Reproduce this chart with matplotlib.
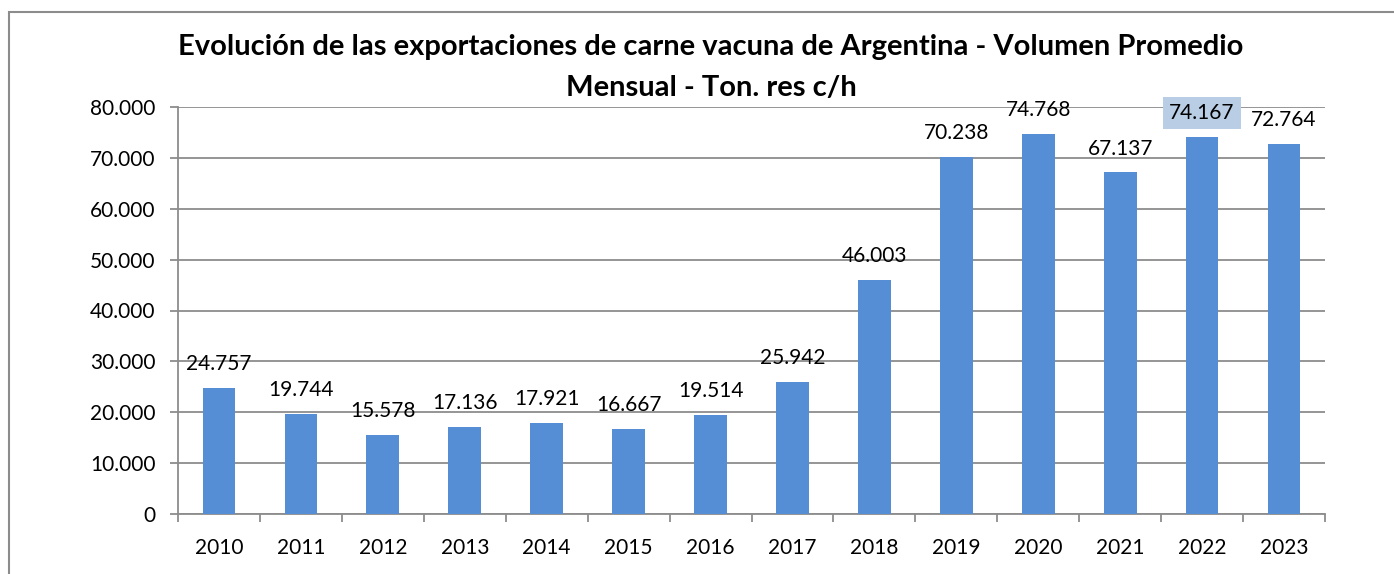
import matplotlib
matplotlib.use("Agg")
import matplotlib.pyplot as plt
from matplotlib.patches import Rectangle
from matplotlib.ticker import FuncFormatter, MultipleLocator

years = ["2010", "2011", "2012", "2013", "2014", "2015", "2016",
         "2017", "2018", "2019", "2020", "2021", "2022", "2023"]
values = [24757, 19744, 15578, 17136, 17921, 16667, 19514,
          25942, 46003, 70238, 74768, 67137, 74167, 72764]
labels = ["24.757", "19.744", "15.578", "17.136", "17.921", "16.667", "19.514",
          "25.942", "46.003", "70.238", "74.768", "67.137", "74.167", "72.764"]
highlight = "2022"

title = "Evolución de las exportaciones de carne vacuna de Argentina - Volumen Promedio\nMensual - Ton. res c/h"

FONT = ["Lato", "DejaVu Sans"]
plt.rcParams["font.family"] = FONT

W, H = 1394, 574
fig = plt.figure(figsize=(W / 100, H / 100), dpi=100)
ax = fig.add_axes([178 / W, 1 - 514 / H, (1325 - 178) / W, (514 - 107) / H])

x = list(range(len(years)))
bar_color = "#558ED5"
ax.bar(x, values, width=0.4, color=bar_color, zorder=3)

ax.set_xlim(-0.5, len(years) - 0.5)
ax.set_ylim(0, 80000)
ax.yaxis.set_major_locator(MultipleLocator(10000))
ax.yaxis.set_major_formatter(FuncFormatter(lambda v, p: "0" if v == 0 else f"{int(v):,}".replace(",", ".")))
ax.grid(axis="y", color="#8C8C8C", linewidth=1.3, zorder=0)
ax.set_axisbelow(True)

for s in ["top", "right"]:
    ax.spines[s].set_visible(False)
for s in ["left", "bottom"]:
    ax.spines[s].set_color("#8C8C8C")
    ax.spines[s].set_linewidth(1.3)

ax.set_xticks([i - 0.5 for i in range(len(years) + 1)], minor=False)
ax.set_xticklabels([])
ax.set_xticks(x, minor=True)
ax.set_xticklabels(years, minor=True)
ax.tick_params(axis="x", which="major", length=6, direction="out", color="#8C8C8C", width=1.3)
ax.tick_params(axis="x", which="minor", length=0, pad=17.5, labelsize=15)
ax.tick_params(axis="y", length=6, direction="out", color="#8C8C8C", width=1.3, labelsize=15, pad=10)

for xi, v, lab, yr in zip(x, values, labels, years):
    kw = {}
    if yr == highlight:
        kw["bbox"] = dict(boxstyle="square,pad=0.3", facecolor="#B9CDE5", edgecolor="none")
    ax.annotate(lab, (xi, v), xytext=(0, 10), textcoords="offset points",
                ha="center", va="bottom", fontsize=15, color="black", zorder=5, **kw)

t1, t2 = title.split("\n")
fig.text(711 / W, 1 - 47 / H, t1, ha="center", va="center", fontsize=21, fontweight="bold")
fig.text(711 / W, 1 - 88 / H, t2, ha="center", va="center", fontsize=21, fontweight="bold")

fig.patches.append(Rectangle((9 / W, -0.05), 1.2, 1.05 - 12 / H,
                             transform=fig.transFigure, fill=False,
                             edgecolor="#8C8C8C", linewidth=1.5))

fig.savefig("out.png", dpi=100)
